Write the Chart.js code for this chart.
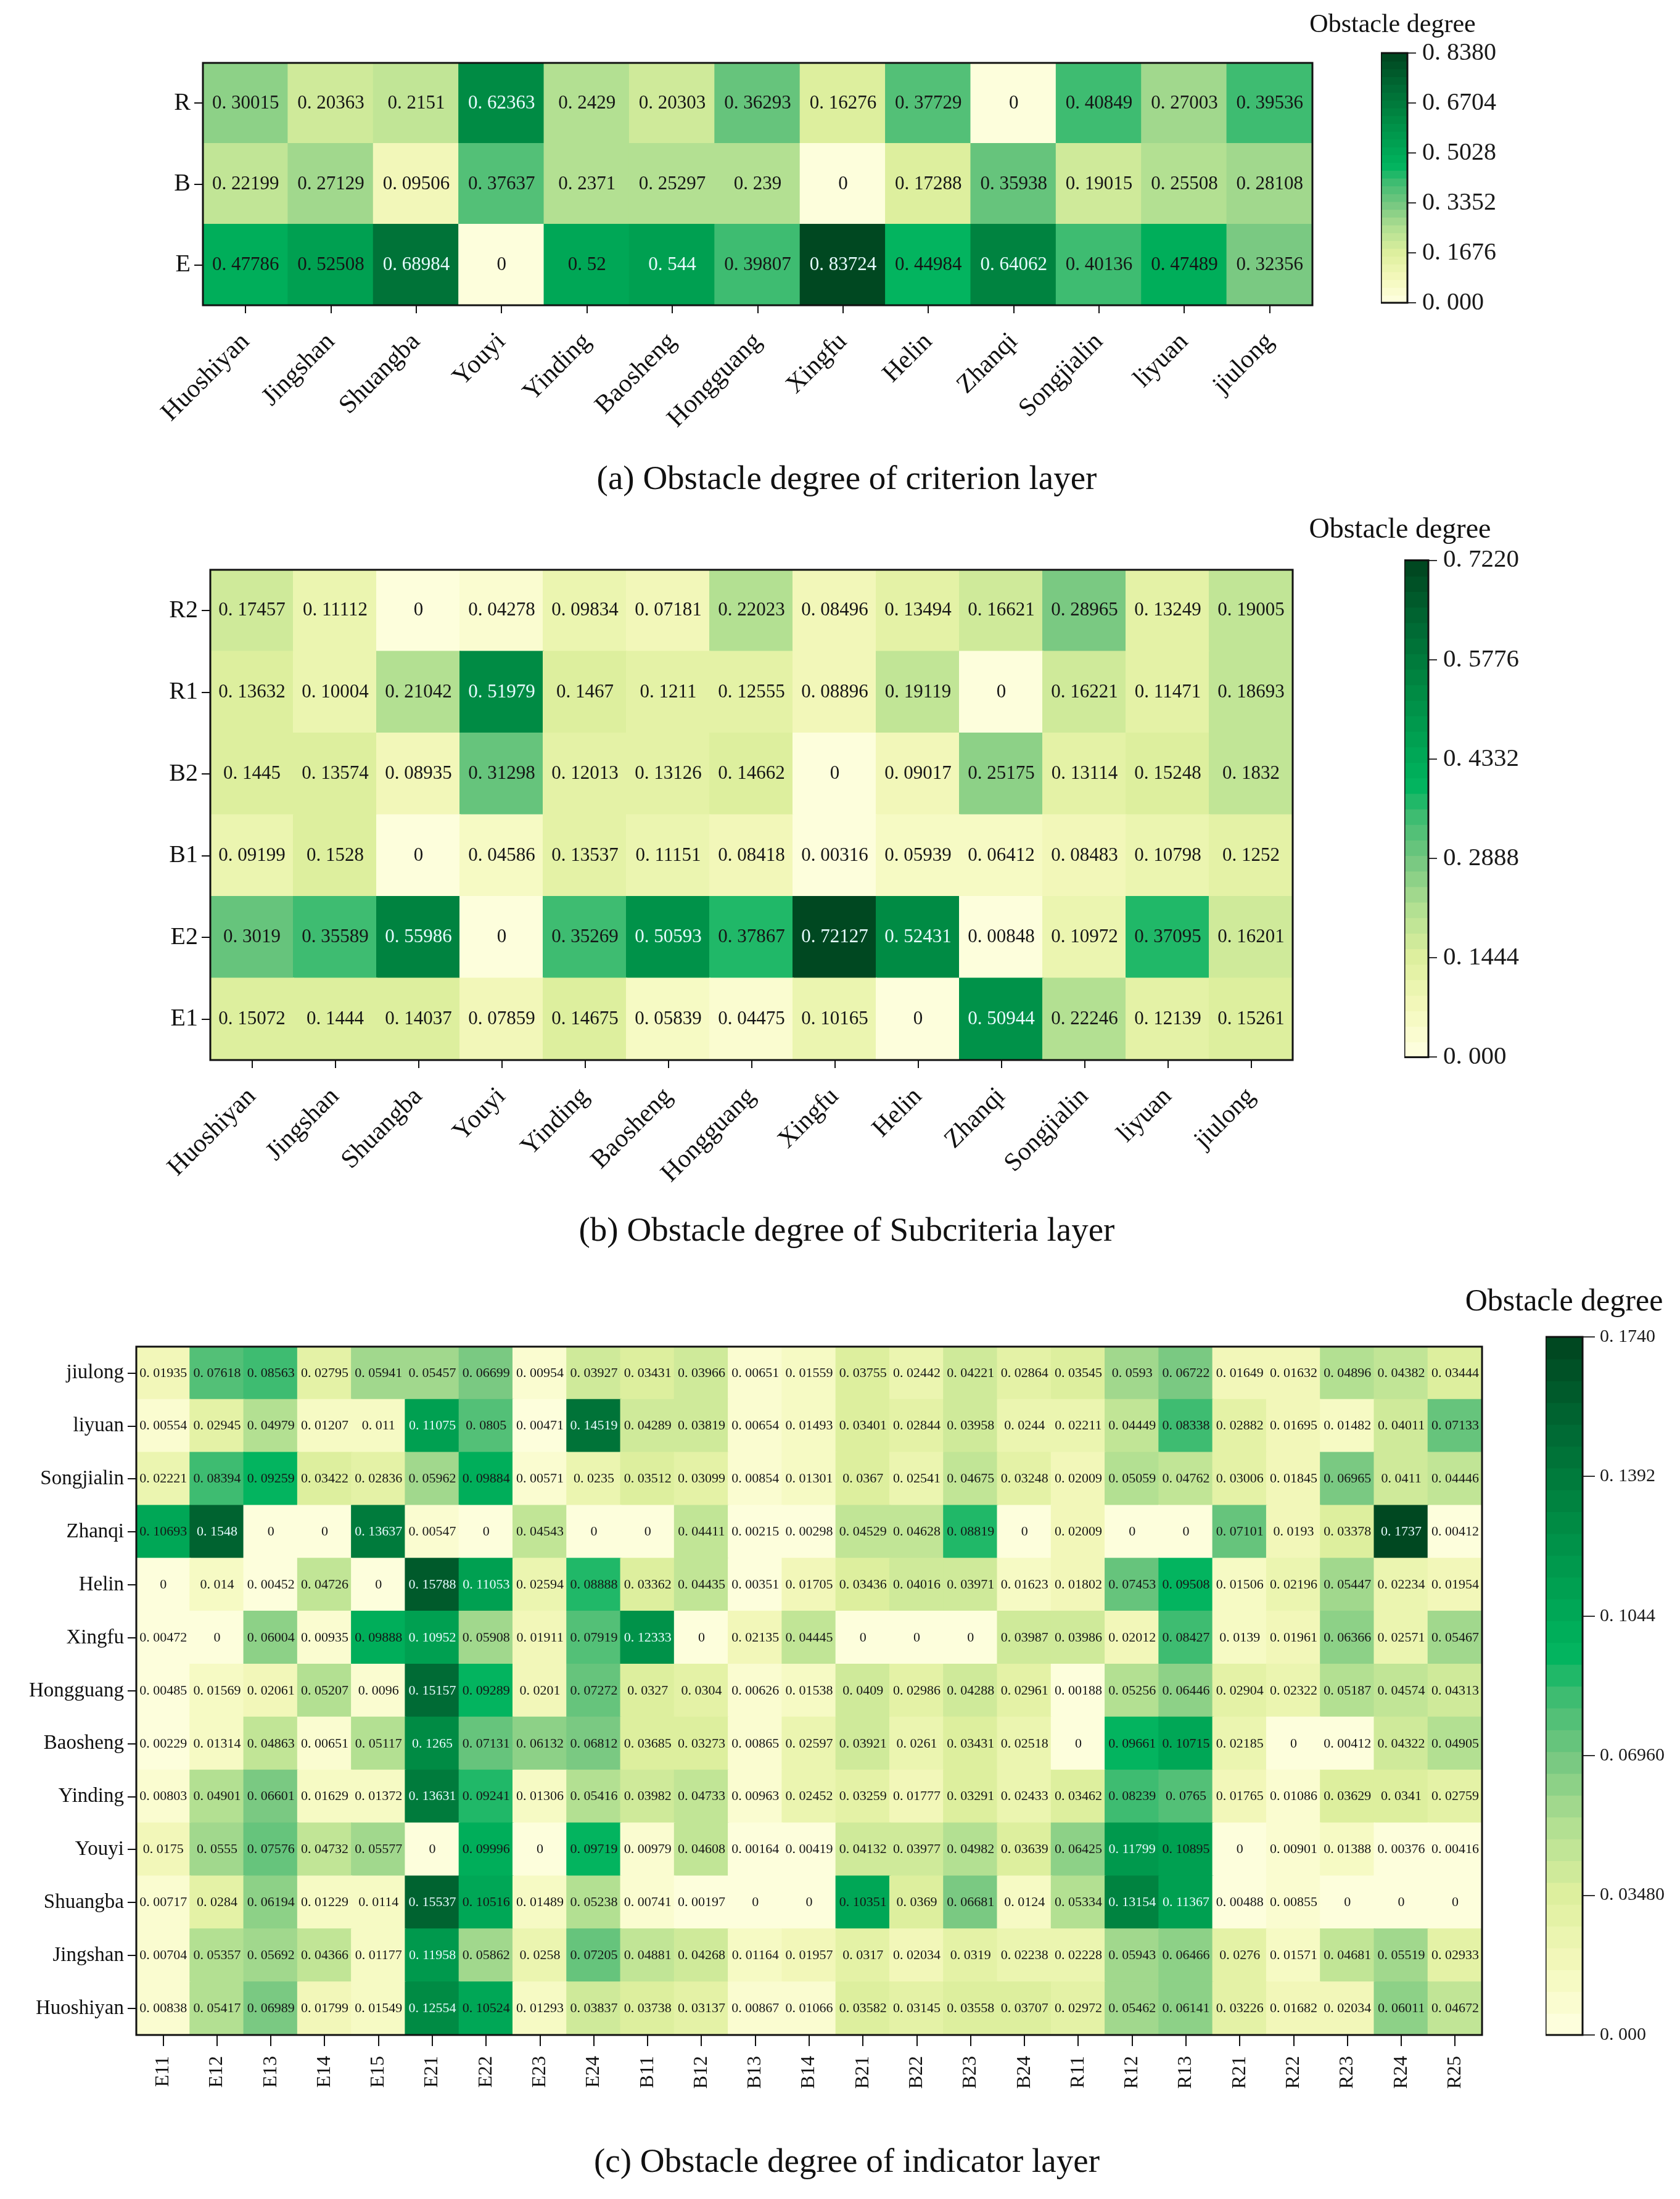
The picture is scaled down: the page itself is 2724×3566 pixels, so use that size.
<!DOCTYPE html>
<html>
<head>
<meta charset="utf-8">
<title>Obstacle degree heatmaps</title>
<script src="https://cdn.jsdelivr.net/npm/chart.js@4.4.1/dist/chart.umd.min.js"></script>
<style>
  body { margin: 0; background: #fff; width: 2724px; height: 3566px; position: relative; overflow: hidden; font-family: "Liberation Serif", serif; color: #111; }
  canvas { position: absolute; }
  .lbl { position: absolute; white-space: nowrap; transform: translate(-50%, -50%); }
</style>
</head>
<body>
<canvas id="heatA"></canvas><canvas id="barA"></canvas>
<canvas id="heatB"></canvas><canvas id="barB"></canvas>
<canvas id="heatC"></canvas><canvas id="barC"></canvas>

<div class="lbl" style="left:2258px; top:38px; font-size:42px;">Obstacle degree</div>
<div class="lbl" style="left:1373px; top:774px; font-size:55px;">(a) Obstacle degree of criterion layer</div>
<div class="lbl" style="left:2270px; top:856px; font-size:46px;">Obstacle degree</div>
<div class="lbl" style="left:1373px; top:1993px; font-size:55px;">(b) Obstacle degree of Subcriteria layer</div>
<div class="lbl" style="left:2536px; top:2108px; font-size:50px;">Obstacle degree</div>
<div class="lbl" style="left:1373px; top:3503px; font-size:55px;">(c) Obstacle degree of indicator layer</div>

<script>
// stations for panels (a) and (b)
var stations = ['Huoshiyan', 'Jingshan', 'Shuangba', 'Youyi', 'Yinding', 'Baosheng', 'Hongguang', 'Xingfu', 'Helin', 'Zhanqi', 'Songjialin', 'liyuan', 'jiulong'];

// (a) criterion layer, rows listed bottom -> top
var critRows = ['E', 'B', 'R'];
var critE = [0.47786, 0.52508, 0.68984, 0, 0.52, 0.544, 0.39807, 0.83724, 0.44984, 0.64062, 0.40136, 0.47489, 0.32356];
var critB = [0.22199, 0.27129, 0.09506, 0.37637, 0.2371, 0.25297, 0.239, 0, 0.17288, 0.35938, 0.19015, 0.25508, 0.28108];
var critR = [0.30015, 0.20363, 0.2151, 0.62363, 0.2429, 0.20303, 0.36293, 0.16276, 0.37729, 0, 0.40849, 0.27003, 0.39536];
var critMax = 0.838;
var critTicks = [0, 0.1676, 0.3352, 0.5028, 0.6704, 0.838];
var critTickLabels = ['0. 000', '0. 1676', '0. 3352', '0. 5028', '0. 6704', '0. 8380'];

// (b) subcriteria layer, rows bottom -> top
var subRows = ['E1', 'E2', 'B1', 'B2', 'R1', 'R2'];
var subE1 = [0.15072, 0.1444, 0.14037, 0.07859, 0.14675, 0.05839, 0.04475, 0.10165, 0, 0.50944, 0.22246, 0.12139, 0.15261];
var subE2 = [0.3019, 0.35589, 0.55986, 0, 0.35269, 0.50593, 0.37867, 0.72127, 0.52431, 0.00848, 0.10972, 0.37095, 0.16201];
var subB1 = [0.09199, 0.1528, 0, 0.04586, 0.13537, 0.11151, 0.08418, 0.00316, 0.05939, 0.06412, 0.08483, 0.10798, 0.1252];
var subB2 = [0.1445, 0.13574, 0.08935, 0.31298, 0.12013, 0.13126, 0.14662, 0, 0.09017, 0.25175, 0.13114, 0.15248, 0.1832];
var subR1 = [0.13632, 0.10004, 0.21042, 0.51979, 0.1467, 0.1211, 0.12555, 0.08896, 0.19119, 0, 0.16221, 0.11471, 0.18693];
var subR2 = [0.17457, 0.11112, 0, 0.04278, 0.09834, 0.07181, 0.22023, 0.08496, 0.13494, 0.16621, 0.28965, 0.13249, 0.19005];
var subMax = 0.722;
var subTicks = [0, 0.1444, 0.2888, 0.4332, 0.5776, 0.722];
var subTickLabels = ['0. 000', '0. 1444', '0. 2888', '0. 4332', '0. 5776', '0. 7220'];

// (c) indicator layer, rows bottom -> top
var indicators = ['E11', 'E12', 'E13', 'E14', 'E15', 'E21', 'E22', 'E23', 'E24', 'B11', 'B12', 'B13', 'B14', 'B21', 'B22', 'B23', 'B24', 'R11', 'R12', 'R13', 'R21', 'R22', 'R23', 'R24', 'R25'];
var indRows = ['Huoshiyan', 'Jingshan', 'Shuangba', 'Youyi', 'Yinding', 'Baosheng', 'Hongguang', 'Xingfu', 'Helin', 'Zhanqi', 'Songjialin', 'liyuan', 'jiulong'];
var indHuoshiyan = [0.00838, 0.05417, 0.06989, 0.01799, 0.01549, 0.12554, 0.10524, 0.01293, 0.03837, 0.03738, 0.03137, 0.00867, 0.01066, 0.03582, 0.03145, 0.03558, 0.03707, 0.02972, 0.05462, 0.06141, 0.03226, 0.01682, 0.02034, 0.06011, 0.04672];
var indJingshan = [0.00704, 0.05357, 0.05692, 0.04366, 0.01177, 0.11958, 0.05862, 0.0258, 0.07205, 0.04881, 0.04268, 0.01164, 0.01957, 0.0317, 0.02034, 0.0319, 0.02238, 0.02228, 0.05943, 0.06466, 0.0276, 0.01571, 0.04681, 0.05519, 0.02933];
var indShuangba = [0.00717, 0.0284, 0.06194, 0.01229, 0.0114, 0.15537, 0.10516, 0.01489, 0.05238, 0.00741, 0.00197, 0, 0, 0.10351, 0.0369, 0.06681, 0.0124, 0.05334, 0.13154, 0.11367, 0.00488, 0.00855, 0, 0, 0];
var indYouyi = [0.0175, 0.0555, 0.07576, 0.04732, 0.05577, 0, 0.09996, 0, 0.09719, 0.00979, 0.04608, 0.00164, 0.00419, 0.04132, 0.03977, 0.04982, 0.03639, 0.06425, 0.11799, 0.10895, 0, 0.00901, 0.01388, 0.00376, 0.00416];
var indYinding = [0.00803, 0.04901, 0.06601, 0.01629, 0.01372, 0.13631, 0.09241, 0.01306, 0.05416, 0.03982, 0.04733, 0.00963, 0.02452, 0.03259, 0.01777, 0.03291, 0.02433, 0.03462, 0.08239, 0.0765, 0.01765, 0.01086, 0.03629, 0.0341, 0.02759];
var indBaosheng = [0.00229, 0.01314, 0.04863, 0.00651, 0.05117, 0.1265, 0.07131, 0.06132, 0.06812, 0.03685, 0.03273, 0.00865, 0.02597, 0.03921, 0.0261, 0.03431, 0.02518, 0, 0.09661, 0.10715, 0.02185, 0, 0.00412, 0.04322, 0.04905];
var indHongguang = [0.00485, 0.01569, 0.02061, 0.05207, 0.0096, 0.15157, 0.09289, 0.0201, 0.07272, 0.0327, 0.0304, 0.00626, 0.01538, 0.0409, 0.02986, 0.04288, 0.02961, 0.00188, 0.05256, 0.06446, 0.02904, 0.02322, 0.05187, 0.04574, 0.04313];
var indXingfu = [0.00472, 0, 0.06004, 0.00935, 0.09888, 0.10952, 0.05908, 0.01911, 0.07919, 0.12333, 0, 0.02135, 0.04445, 0, 0, 0, 0.03987, 0.03986, 0.02012, 0.08427, 0.0139, 0.01961, 0.06366, 0.02571, 0.05467];
var indHelin = [0, 0.014, 0.00452, 0.04726, 0, 0.15788, 0.11053, 0.02594, 0.08888, 0.03362, 0.04435, 0.00351, 0.01705, 0.03436, 0.04016, 0.03971, 0.01623, 0.01802, 0.07453, 0.09508, 0.01506, 0.02196, 0.05447, 0.02234, 0.01954];
var indZhanqi = [0.10693, 0.1548, 0, 0, 0.13637, 0.00547, 0, 0.04543, 0, 0, 0.04411, 0.00215, 0.00298, 0.04529, 0.04628, 0.08819, 0, 0.02009, 0, 0, 0.07101, 0.0193, 0.03378, 0.1737, 0.00412];
var indSongjialin = [0.02221, 0.08394, 0.09259, 0.03422, 0.02836, 0.05962, 0.09884, 0.00571, 0.0235, 0.03512, 0.03099, 0.00854, 0.01301, 0.0367, 0.02541, 0.04675, 0.03248, 0.02009, 0.05059, 0.04762, 0.03006, 0.01845, 0.06965, 0.0411, 0.04446];
var indLiyuan = [0.00554, 0.02945, 0.04979, 0.01207, 0.011, 0.11075, 0.0805, 0.00471, 0.14519, 0.04289, 0.03819, 0.00654, 0.01493, 0.03401, 0.02844, 0.03958, 0.0244, 0.02211, 0.04449, 0.08338, 0.02882, 0.01695, 0.01482, 0.04011, 0.07133];
var indJiulong = [0.01935, 0.07618, 0.08563, 0.02795, 0.05941, 0.05457, 0.06699, 0.00954, 0.03927, 0.03431, 0.03966, 0.00651, 0.01559, 0.03755, 0.02442, 0.04221, 0.02864, 0.03545, 0.0593, 0.06722, 0.01649, 0.01632, 0.04896, 0.04382, 0.03444];
var indMax = 0.174;
var indTicks = [0, 0.0348, 0.0696, 0.1044, 0.1392, 0.174];
var indTickLabels = ['0. 000', '0. 03480', '0. 06960', '0. 1044', '0. 1392', '0. 1740'];

// colour map (white-yellow -> bright green -> dark green), stepped like the original
var cmapStops = [
  [0.00, [255, 255, 226]], [0.10, [244, 248, 188]], [0.20, [222, 240, 158]],
  [0.30, [178, 223, 146]], [0.40, [116, 199, 128]], [0.48, [66, 188, 114]],
  [0.55, [0, 180, 94]], [0.65, [0, 158, 80]], [0.75, [0, 135, 66]],
  [0.88, [0, 102, 50]], [1.00, [0, 68, 30]]
];
var nSteps = 32;

function rawColor(t) {
  for (var i = 1; i < cmapStops.length; i++) {
    if (t <= cmapStops[i][0]) {
      var a = cmapStops[i - 1], b = cmapStops[i];
      var f = (t - a[0]) / (b[0] - a[0]);
      var c = a[1].map(function (x, k) { return Math.round(x + (b[1][k] - x) * f); });
      return 'rgb(' + c.join(',') + ')';
    }
  }
  return 'rgb(0,68,30)';
}
function stepColor(t) {
  var k = Math.min(nSteps - 1, Math.floor(t * nSteps));
  return rawColor((k + 0.5) / nSteps);
}
function fmt(v) {
  return v === 0 ? '0' : String(v).replace('.', '. ');
}

Chart.defaults.font.family = '"Liberation Serif", serif';
Chart.defaults.color = '#111';

var framePlugin = {
  id: 'frame',
  afterDraw: function (chart) {
    var a = chart.chartArea, ctx = chart.ctx;
    ctx.save();
    ctx.strokeStyle = '#111';
    ctx.lineWidth = 3;
    ctx.strokeRect(a.left, a.top, a.right - a.left, a.bottom - a.top);
    ctx.restore();
  }
};

var cellTextPlugin = {
  id: 'cellText',
  afterDatasetsDraw: function (chart) {
    var ctx = chart.ctx, max = chart.options.plugins.cellText.max;
    ctx.save();
    ctx.font = chart.options.plugins.cellText.font;
    ctx.textAlign = 'center';
    ctx.textBaseline = 'middle';
    chart.data.datasets.forEach(function (ds, d) {
      chart.getDatasetMeta(d).data.forEach(function (bar, i) {
        var v = ds.values[i];
        ctx.fillStyle = v / max > 0.628 ? '#e6fbff' : '#151515';
        ctx.fillText(fmt(v), bar.x, (bar.y + bar.base) / 2);
      });
    });
    ctx.restore();
  }
};

function heatmap(id, s) {
  var cv = document.getElementById(id);
  var w = s.yAxisW + (s.right - s.left) + s.padR;
  var h = s.padT + (s.bottom - s.top) + s.xAxisH;
  cv.width = w; cv.height = h;
  cv.style.left = (s.left - s.yAxisW) + 'px';
  cv.style.top = (s.top - s.padT) + 'px';

  var datasets = s.rows.map(function (vals, r) {
    return {
      label: s.rowNames[r],
      data: vals.map(function () { return 1; }),
      values: vals,
      backgroundColor: vals.map(function (v) { return stepColor(v / s.max); }),
      borderWidth: 0,
      inflateAmount: 1,
      barPercentage: 1,
      categoryPercentage: 1
    };
  });

  return new Chart(cv, {
    type: 'bar',
    data: { labels: s.cols, datasets: datasets },
    options: {
      responsive: false,
      animation: false,
      devicePixelRatio: 1,
      layout: { padding: { top: s.padT, right: s.padR, left: 0, bottom: 0 } },
      plugins: {
        legend: { display: false },
        tooltip: { enabled: false },
        cellText: { font: s.cellFont, max: s.max }
      },
      scales: {
        x: {
          stacked: true,
          afterFit: function (sc) { sc.height = s.xAxisH; },
          grid: { offset: false, drawOnChartArea: false, drawTicks: true, tickLength: s.xTick, color: '#111', lineWidth: 2 },
          border: { display: false },
          ticks: { autoSkip: false, minRotation: s.rot, maxRotation: s.rot, padding: s.xPad, font: { size: s.xFont }, color: '#111' }
        },
        y: {
          stacked: true,
          min: 0,
          max: s.rows.length,
          afterFit: function (sc) { sc.width = s.yAxisW; },
          afterBuildTicks: function (sc) {
            sc.ticks = s.rowNames.map(function (n, i) { return { value: i + 0.5 }; });
          },
          grid: { drawOnChartArea: false, drawTicks: true, tickLength: 14, color: '#111', lineWidth: 2 },
          border: { display: false },
          ticks: {
            padding: 6,
            font: { size: s.yFont },
            color: '#111',
            callback: function (v, i) { return s.rowNames[i]; }
          }
        }
      }
    },
    plugins: [cellTextPlugin, framePlugin]
  });
}

function colorbar(id, s) {
  var cv = document.getElementById(id);
  var padT = 30, padB = 30;
  var w = (s.right - s.left) + s.axisW + 4;
  var h = padT + (s.bottom - s.top) + padB;
  cv.width = w; cv.height = h;
  cv.style.left = s.left + 'px';
  cv.style.top = (s.top - padT) + 'px';

  return new Chart(cv, {
    type: 'bar',
    data: { labels: [''], datasets: [] },
    options: {
      responsive: false,
      animation: false,
      devicePixelRatio: 1,
      layout: { padding: { top: padT, bottom: padB, left: 0, right: 4 } },
      plugins: { legend: { display: false }, tooltip: { enabled: false } },
      scales: {
        x: { display: false },
        y: {
          position: 'right',
          min: 0,
          max: s.max,
          afterFit: function (sc) { sc.width = s.axisW; },
          afterBuildTicks: function (sc) {
            sc.ticks = s.ticks.map(function (v) { return { value: v }; });
          },
          grid: { drawOnChartArea: false, drawTicks: true, tickLength: s.tick, color: '#333', lineWidth: 2 },
          border: { display: false },
          ticks: {
            padding: s.pad,
            font: s.font,
            color: '#1a1a1a',
            callback: function (v, i) { return s.labels[i]; }
          }
        }
      }
    },
    plugins: [{
      id: 'cbFill',
      beforeDatasetsDraw: function (chart) {
        var a = chart.chartArea, y = chart.scales.y, ctx = chart.ctx;
        ctx.save();
        for (var k = 0; k < nSteps; k++) {
          var y0 = y.getPixelForValue(s.max * k / nSteps);
          var y1 = y.getPixelForValue(s.max * (k + 1) / nSteps);
          ctx.fillStyle = rawColor((k + 0.5) / nSteps);
          ctx.fillRect(a.left, y1, a.right - a.left, y0 - y1 + 1);
        }
        ctx.restore();
      }
    }, framePlugin]
  });
}

heatmap('heatA', {
  cols: stations, rowNames: critRows, rows: [critE, critB, critR], max: critMax,
  left: 329, top: 82, right: 2128, bottom: 495,
  yAxisW: 120, padT: 10, padR: 10, xAxisH: 260,
  rot: 45, xTick: 13, xPad: 22, xFont: 42, yFont: 40,
  cellFont: '31px "Liberation Serif"'
});
colorbar('barA', {
  max: critMax, ticks: critTicks, labels: critTickLabels,
  left: 2239, top: 82, right: 2282, bottom: 495,
  axisW: 190, tick: 14, pad: 10, font: { size: 40 }
});

heatmap('heatB', {
  cols: stations, rowNames: subRows, rows: [subE1, subE2, subB1, subB2, subR1, subR2], max: subMax,
  left: 341, top: 904, right: 2096, bottom: 1719,
  yAxisW: 130, padT: 10, padR: 10, xAxisH: 260,
  rot: 45, xTick: 13, xPad: 22, xFont: 42, yFont: 40,
  cellFont: '31px "Liberation Serif"'
});
colorbar('barB', {
  max: subMax, ticks: subTicks, labels: subTickLabels,
  left: 2277, top: 904, right: 2316, bottom: 1719,
  axisW: 190, tick: 14, pad: 10, font: { size: 41 }
});

heatmap('heatC', {
  cols: indicators, rowNames: indRows,
  rows: [indHuoshiyan, indJingshan, indShuangba, indYouyi, indYinding, indBaosheng, indHongguang, indXingfu, indHelin, indZhanqi, indSongjialin, indLiyuan, indJiulong],
  max: indMax,
  left: 221, top: 2168, right: 2404, bottom: 3300,
  yAxisW: 210, padT: 10, padR: 10, xAxisH: 120,
  rot: 90, xTick: 18, xPad: 16, xFont: 32, yFont: 33,
  cellFont: '22px "Liberation Serif"'
});
colorbar('barC', {
  max: indMax, ticks: indTicks, labels: indTickLabels,
  left: 2506, top: 2168, right: 2566, bottom: 3300,
  axisW: 170, tick: 20, pad: 8, font: { size: 30 }
});
</script>
</body>
</html>
